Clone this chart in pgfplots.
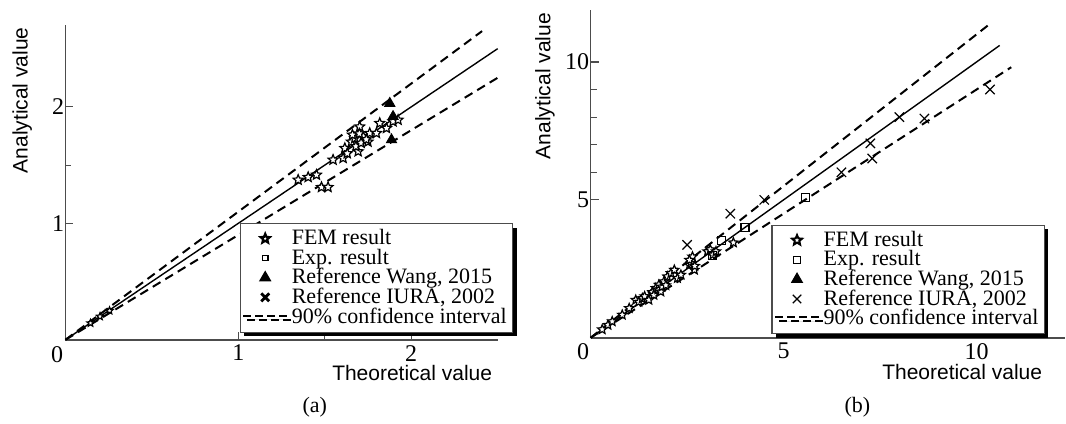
\documentclass[border=0pt]{standalone}
\usepackage{fontspec}
\setmainfont{Liberation Serif}
\newfontfamily\arial{Liberation Sans}
\usepackage{pgfplots}
\pgfplotsset{compat=1.18}
\usetikzlibrary{shadows,plotmarks}

% open five-pointed star
\pgfdeclareplotmark{ostar}{%
  \pgfpathmoveto{\pgfpointpolar{90}{\pgfplotmarksize}}%
  \pgfpathlineto{\pgfpointpolar{126}{0.45\pgfplotmarksize}}%
  \pgfpathlineto{\pgfpointpolar{162}{\pgfplotmarksize}}%
  \pgfpathlineto{\pgfpointpolar{198}{0.45\pgfplotmarksize}}%
  \pgfpathlineto{\pgfpointpolar{234}{\pgfplotmarksize}}%
  \pgfpathlineto{\pgfpointpolar{270}{0.45\pgfplotmarksize}}%
  \pgfpathlineto{\pgfpointpolar{306}{\pgfplotmarksize}}%
  \pgfpathlineto{\pgfpointpolar{342}{0.45\pgfplotmarksize}}%
  \pgfpathlineto{\pgfpointpolar{18}{\pgfplotmarksize}}%
  \pgfpathlineto{\pgfpointpolar{54}{0.45\pgfplotmarksize}}%
  \pgfpathclose
  \pgfusepathqfillstroke}

\pgfplotsset{
  refpanel/.style={
    scale only axis, axis lines*=left, tick align=inside,
    axis line style={draw=black!70, line width=0.75pt},
    tick style={draw=black!70, line width=0.6pt},
    major tick length=4pt, minor tick length=3pt,
    /pgf/number format/assume math mode=true,
    tick label style={font=\fontsize{12}{12}\selectfont},
    xticklabel style={inner sep=0pt, yshift=-2.5pt},
    yticklabel style={inner sep=0.5pt},
    label style={font=\arial\fontsize{10.5}{10.5}\selectfont, inner sep=0pt},
    clip=false,
    legend cell align=left,
    legend style={draw=black!70, line width=0.6pt, fill=white, inner sep=1pt,
      font=\fontsize{11}{11}\selectfont, row sep=-3.4pt,
      drop shadow={shadow xshift=2pt, shadow yshift=-2pt, fill=black, opacity=1}},
  },
  markimg/.style={legend image code/.code={\draw[mark repeat=2,mark phase=2,##1] plot coordinates {(0pt,0pt)(11pt,0pt)(22pt,0pt)};}},
  lineimg/.style={legend image code/.code={\draw[##1] (0pt,0.6pt) -- (21.8pt,0.6pt);}},
  fem/.style={only marks, mark=ostar, mark size=2.6pt, mark options={fill=white, line width=0.6pt}},
  expr/.style={only marks, mark=square, mark size=2pt, mark options={fill=white, line width=0.6pt}},
  wang/.style={only marks, mark=triangle*, mark size=3pt, mark options={fill=black}},
  iura/.style={only marks, mark=x, mark size=3.3pt, mark options={line width=0.6pt}},
  conf/.style={no marks, line width=1pt, dash pattern=on 4.5pt off 2.8pt},
  fit/.style={no marks, line width=0.7pt},
}

\begin{document}
\begin{tikzpicture}
\path (0,0) rectangle (533pt,208.5pt);

% (a)
\begin{axis}[refpanel,
  at={(32.75pt,38.5pt)}, anchor=south west,
  width=216.25pt, height=157.3pt,
  xmin=0, xmax=2.5, ymin=0, ymax=2.7,
  xtick={1,2}, ytick={1,2}, minor tick num=1,
  xlabel={Theoretical value}, ylabel={Analytical value},
  xlabel style={at={(axis description cs:0.988,0)}, anchor=north east, yshift=-12.5pt},
  ylabel style={at={(axis description cs:-0.1,0.995)}, anchor=east},
  legend style={at={(0.403,0.022)}, anchor=south west}]
\addplot[fit, forget plot] coordinates {(0,0) (2.5,2.5)};
\addplot[conf, forget plot] coordinates {(0,0) (2.41,2.651)};
\addplot[conf, forget plot] coordinates {(0,0) (2.5,2.25)};
\addplot[fem, forget plot, mark size=1.9pt] coordinates {(0.145,0.143) (0.2,0.2) (0.255,0.25)};
\addplot[fem, forget plot] coordinates {
(1.346,1.373) (1.404,1.396) (1.452,1.416) (1.481,1.31) (1.519,1.31)
(1.548,1.545) (1.606,1.56) (1.616,1.645) (1.654,1.70) (1.693,1.617)
(1.702,1.83) (1.673,1.73) (1.722,1.745) (1.75,1.70) (1.76,1.774)
(1.799,1.774) (1.818,1.86) (1.857,1.817) (1.895,1.874) (1.924,1.888)
(1.68,1.66) (1.71,1.69) (1.66,1.76) (1.74,1.72) (1.70,1.77) (1.63,1.60)};
\addplot[wang, forget plot] coordinates {(1.876,2.03) (1.895,1.917) (1.886,1.717)};
\addlegendimage{fem, markimg, mark size=2.4pt, mark options={fill=white, line width=1.1pt}}
\addlegendentry{FEM result}
\addlegendimage{expr, markimg, mark size=1.4pt}
\addlegendentry{Exp. result}
\addlegendimage{wang, markimg}
\addlegendentry{Reference Wang, 2015}
\addlegendimage{iura, markimg, mark size=2.8pt, mark options={line width=1.4pt}}
\addlegendentry{Reference IURA, 2002}
\addlegendimage{conf, lineimg, dash pattern=on 3.8pt off 2.2pt}
\addlegendentry{90\% confidence interval}
\node[anchor=north east, inner sep=0pt, font=\fontsize{12}{12}\selectfont] at (axis cs:0,0) [xshift=-1pt, yshift=-3pt] {0};
\end{axis}

% (b)
\begin{axis}[refpanel,
  at={(295.5pt,39.5pt)}, anchor=south west,
  width=237.5pt, height=164.2pt,
  xmin=0, xmax=12.3, ymin=0, ymax=11.9,
  xtick={5,10}, ytick={5,10}, minor tick num=4,
  xlabel={Theoretical value}, ylabel={Analytical value},
  xlabel style={at={(axis description cs:0.952,0)}, anchor=north east, yshift=-13.2pt},
  ylabel style={at={(axis description cs:-0.096,0.99)}, anchor=east},
  legend style={at={(0.381,0.01)}, anchor=south west}]
\addplot[fit, forget plot] coordinates {(0,0) (10.6,10.6)};
\addplot[conf, forget plot] coordinates {(0,0) (10.3,11.33)};
\addplot[conf, forget plot] coordinates {(0,0) (10.9,9.81)};
\addplot[fem, forget plot, mark size=2.4pt] coordinates {
(0.3,0.3) (0.45,0.46) (0.56,0.59) (0.82,0.83) (1.0,1.07) (1.17,1.37) (1.25,1.3)
(1.34,1.43) (1.4,1.5) (1.51,1.37) (1.6,1.65) (1.64,1.55) (1.69,1.8) (1.75,1.75)
(1.77,1.92) (1.82,1.67) (1.85,1.85) (1.9,2.04) (1.95,1.9) (1.99,2.22)
(2.08,2.34) (2.17,2.46) (2.25,2.16) (2.34,2.28) (2.56,2.64) (2.6,2.7)
(2.64,2.94) (2.69,2.46) (2.56,2.82) (2.7,2.6) (3.03,3.13) (3.1,3.2)
(3.17,3.01) (3.25,3.13) (3.7,3.45)};
\addplot[expr, forget plot] coordinates {(3.15,2.98) (3.39,3.52) (4.0,4.0) (5.56,5.1)};
\addplot[iura, forget plot] coordinates {
(2.5,3.37) (3.62,4.5) (4.5,5.0) (6.5,6.0) (7.25,7.05) (7.3,6.5)
(8.0,8.0) (8.65,7.95) (10.35,9.0)};
\addlegendimage{fem, markimg, mark size=2.6pt, mark options={fill=white, line width=1pt}}
\addlegendentry{FEM result}
\addlegendimage{expr, markimg, mark size=1.8pt}
\addlegendentry{Exp. result}
\addlegendimage{wang, markimg}
\addlegendentry{Reference Wang, 2015}
\addlegendimage{iura, markimg, mark size=3pt}
\addlegendentry{Reference IURA, 2002}
\addlegendimage{conf, lineimg, dash pattern=on 3.8pt off 2.2pt}
\addlegendentry{90\% confidence interval}
\node[anchor=north east, inner sep=0pt, font=\fontsize{12}{12}\selectfont] at (axis cs:0,0) [xshift=-0.5pt, yshift=-2.5pt] {0};
\end{axis}

\node[font=\fontsize{11}{11}\selectfont] at (157.5pt,4.75pt) {(a)};
\node[font=\fontsize{11}{11}\selectfont] at (429pt,4.75pt) {(b)};
\end{tikzpicture}
\end{document}
